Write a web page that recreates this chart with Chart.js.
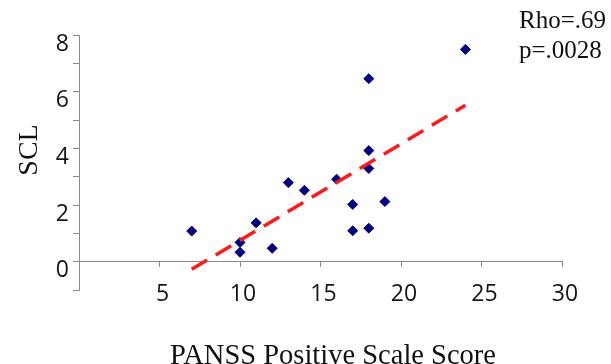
<!DOCTYPE html>
<html><head><meta charset="utf-8">
<script src="https://cdn.jsdelivr.net/npm/chart.js@4/dist/chart.umd.min.js"></script>
<style>html,body{margin:0;padding:0;background:#fff}#wrap{width:611px;height:364px;position:relative}</style>
</head><body><div id="wrap"><canvas id="c" width="611" height="364"></canvas></div>
<script>
const panssScores = [7, 10, 10, 11, 12, 13, 14, 16, 17, 17, 18, 18, 18, 18, 19, 24];
const sclValues   = [1.08, 0.68, 0.33, 1.37, 0.47, 2.79, 2.52, 2.91, 2.02, 1.09, 6.46, 3.92, 3.29, 1.18, 2.12, 7.49];
const trendX = [7, 24];
const trendY = [-0.27, 5.52];
const xTickLabels = [5, 10, 15, 20, 25, 30];
const yTickLabels = [0, 2, 4, 6, 8];
const xTitle = 'PANSS Positive Scale Score';
const yTitle = 'SCL';
const statLines = ['Rho=.69', 'p=.0028'];

const points = panssScores.map((x, i) => ({x: x, y: sclValues[i]}));
const trend = trendX.map((x, i) => ({x: x, y: trendY[i]}));

const tickFont = {family: 'Open Sans', size: 23};
const axisGray = '#8a8a8a';

const textPlugin = {
  id: 'texts',
  afterDraw(chart) {
    const ctx = chart.ctx;
    ctx.save();
    ctx.fillStyle = '#111111';
    ctx.font = '25px "Liberation Serif"';
    ctx.textAlign = 'left';
    ctx.textBaseline = 'alphabetic';
    ctx.fillText(statLines[0], 519, 28);
    ctx.fillText(statLines[1], 519, 58);
    ctx.font = '28.5px "Liberation Serif"';
    ctx.textAlign = 'center';
    ctx.fillText(xTitle, 333, 364);
    ctx.translate(37, 150);
    ctx.rotate(-Math.PI / 2);
    ctx.font = '28px "Liberation Serif"';
    ctx.fillText(yTitle, 0, 0);
    ctx.restore();
  }
};

new Chart(document.getElementById('c'), {
  type: 'scatter',
  data: {
    datasets: [
      {
        label: 'SCL',
        data: points,
        pointStyle: 'rectRot',
        pointRadius: 5,
        pointBorderWidth: 1,
        backgroundColor: '#000082',
        borderColor: '#000082',
        order: 2
      },
      {
        label: 'Trend',
        type: 'line',
        data: trend,
        borderColor: '#ff1a1a',
        borderWidth: 3.5,
        borderDash: [18, 10],
        pointRadius: 0,
        fill: false,
        order: 1
      }
    ]
  },
  options: {
    responsive: false,
    animation: false,
    devicePixelRatio: 1,
    layout: {padding: {left: 0, right: 49, top: 35, bottom: 74}},
    plugins: {legend: {display: false}, tooltip: {enabled: false}},
    scales: {
      x: {
        type: 'linear',
        position: {y: 0},
        min: 0, max: 30,
        border: {display: true, color: axisGray, width: 1},
        grid: {display: true, drawOnChartArea: false, drawTicks: true, tickLength: 5, color: axisGray},
        ticks: {
          stepSize: 5, autoSkip: false, maxRotation: 0, padding: 14, labelOffset: 3,
          color: '#151515', font: tickFont,
          callback: v => xTickLabels.includes(v) ? String(v) : ''
        }
      },
      y: {
        type: 'linear',
        position: 'left',
        min: -1, max: 8,
        afterFit: s => { s.width = 79; },
        border: {display: true, color: axisGray, width: 1},
        grid: {display: true, drawOnChartArea: false, drawTicks: true, tickLength: 6, color: axisGray},
        ticks: {
          stepSize: 1, autoSkip: false, padding: 4, labelOffset: 9,
          color: '#151515', font: tickFont,
          callback: v => yTickLabels.includes(v) ? String(v) : ''
        }
      }
    }
  },
  plugins: [textPlugin]
});
</script>
</body></html>
